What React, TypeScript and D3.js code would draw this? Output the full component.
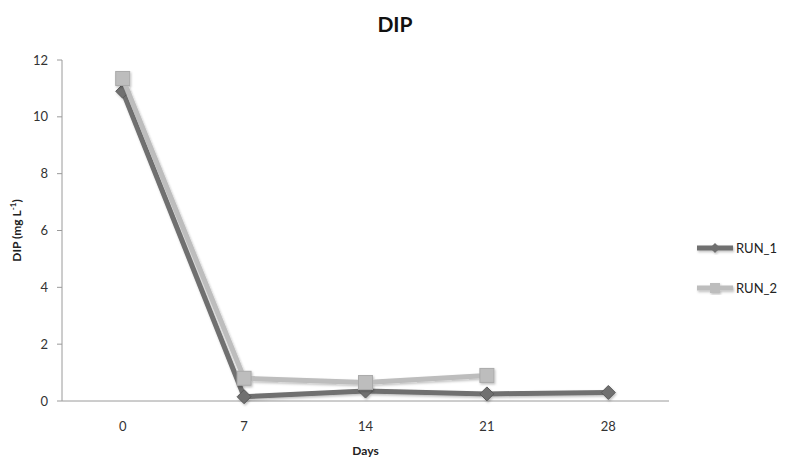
import React from "react";
import * as d3 from "d3";

const days = ["0", "7", "14", "21", "28"];
const run1 = [10.9, 0.15, 0.35, 0.25, 0.3];
const run2: (number | null)[] = [11.35, 0.8, 0.65, 0.9, null];
const yTicks = [0, 2, 4, 6, 8, 10, 12];
const seriesNames = ["RUN_1", "RUN_2"];

const W = 789;
const H = 462;
const left = 62;
const right = 669;
const top = 60;
const bottom = 401;
const FONT = "Lato, 'Open Sans', sans-serif";

export default function App() {
  const x = d3.scaleBand<string>().domain(days).range([left, right]);
  const y = d3.scaleLinear().domain([0, 12]).range([bottom, top]);
  const cx = (d: string) => (x(d) ?? 0) + x.bandwidth() / 2;

  const line1 = d3
    .line<number>()
    .x((_, i) => cx(days[i]))
    .y((v) => y(v))(run1) ?? "";
  const line2 = d3
    .line<number | null>()
    .defined((v) => v != null)
    .x((_, i) => cx(days[i]))
    .y((v) => y(v as number))(run2) ?? "";

  const diamond = (px: number, py: number, r: number) =>
    `M${px},${py - r}L${px + r},${py}L${px},${py + r}L${px - r},${py}Z`;

  const c1 = "#6f6f6f";
  const c2 = "#bdbdbd";

  return (
    <svg width={W} height={H} style={{ position: "absolute", left: 0, top: 0, background: "#fff" }}>
      <defs>
        <filter id="sh" x="-20%" y="-20%" width="140%" height="140%">
          <feDropShadow dx="1" dy="1.5" stdDeviation="1.2" floodColor="#000" floodOpacity="0.25" />
        </filter>
      </defs>
      <rect width={W} height={H} fill="#fff" />
      <text x={395} y={32} textAnchor="middle" fontFamily={FONT} fontWeight="bold" fontSize={21} fill="#111">
        DIP
      </text>

      {/* y axis */}
      <line x1={left} x2={left} y1={top} y2={bottom} stroke="#9a9a9a" strokeWidth={1} />
      {yTicks.map((t) => (
        <g key={t}>
          <line x1={left - 5} x2={left} y1={y(t)} y2={y(t)} stroke="#9a9a9a" />
          <text x={left - 14} y={y(t) + 4.5} textAnchor="end" fontFamily={FONT} fontSize={13} fill="#333">
            {t}
          </text>
        </g>
      ))}
      {/* x axis */}
      <line x1={left} x2={right} y1={bottom} y2={bottom} stroke="#9a9a9a" strokeWidth={1} />
      {days.map((d) => (
        <text key={d} x={cx(d)} y={431} textAnchor="middle" fontFamily={FONT} fontSize={13} fill="#333">
          {d}
        </text>
      ))}
      <text x={(left + right) / 2} y={455} textAnchor="middle" fontFamily={FONT} fontWeight="bold" fontSize={12} fill="#222">
        Days
      </text>
      <text
        transform={`translate(21,${(top + bottom) / 2}) rotate(-90)`}
        textAnchor="middle"
        fontFamily={FONT}
        fontWeight="bold"
        fontSize={12}
        fill="#222"
      >
        DIP (mg L<tspan dy={-5} fontSize={8}>-1</tspan>
        <tspan dy={5}>)</tspan>
      </text>

      {/* series */}
      <g filter="url(#sh)">
        <path d={line1} fill="none" stroke={c1} strokeWidth={5} strokeLinejoin="round" />
        {run1.map((v, i) => (
          <path key={i} d={diamond(cx(days[i]), y(v), 7)} fill={c1} stroke="#5a5a5a" strokeWidth={1} />
        ))}
      </g>
      <g filter="url(#sh)">
        <path d={line2} fill="none" stroke={c2} strokeWidth={5} strokeLinejoin="round" />
        {run2.map((v, i) =>
          v == null ? null : (
            <rect key={i} x={cx(days[i]) - 7} y={y(v) - 7} width={14} height={14} fill={c2} stroke="#aaa" strokeWidth={1} />
          )
        )}
      </g>

      {/* legend */}
      {seriesNames.map((name, i) => {
        const ly = 248 + i * 40;
        const col = i === 0 ? c1 : c2;
        return (
          <g key={name}>
            <g filter="url(#sh)">
              <line x1={697} x2={733} y1={ly} y2={ly} stroke={col} strokeWidth={5} />
              {i === 0 ? (
                <path d={diamond(715, ly, 5)} fill={col} />
              ) : (
                <rect x={710} y={ly - 5} width={10} height={10} fill={col} />
              )}
            </g>
            <text x={736} y={ly + 5} fontFamily={FONT} fontSize={13} fill="#222">
              {name}
            </text>
          </g>
        );
      })}
    </svg>
  );
}
